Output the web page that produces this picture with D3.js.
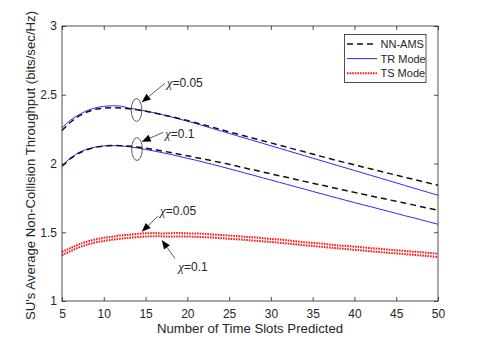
<!DOCTYPE html>
<html><head><meta charset="utf-8">
<script src="https://cdn.jsdelivr.net/npm/d3@7"></script>
<style>
body{margin:0;background:#fff;}
text{font-family:"Liberation Sans",Arial,sans-serif;fill:#262626;}
</style></head>
<body><svg id="c" width="485" height="340"></svg>
<script>
const slots = [5,6,7,8,9,10,11,12,13,14,15,16,17,18,19,20,21,22,23,24,25,26,27,28,29,30,31,32,33,34,35,36,37,38,39,40,41,42,43,44,45,46,47,48,49,50];
const nnAms005 = [2.24,2.30,2.345,2.375,2.394,2.403,2.406,2.404,2.398,2.39,2.38,2.368,2.355,2.342,2.328,2.313,2.297,2.281,2.264,2.247,2.23,2.214,2.198,2.182,2.166,2.150,2.134,2.117,2.101,2.085,2.069,2.052,2.036,2.020,2.005,1.990,1.975,1.960,1.945,1.930,1.915,1.900,1.886,1.871,1.856,1.842];
const tr005 = [2.26,2.315,2.355,2.385,2.405,2.416,2.42,2.418,2.403,2.393,2.382,2.369,2.355,2.340,2.324,2.308,2.291,2.273,2.255,2.237,2.219,2.201,2.183,2.165,2.147,2.129,2.111,2.093,2.075,2.057,2.039,2.021,2.003,1.985,1.967,1.949,1.931,1.913,1.895,1.877,1.859,1.841,1.823,1.805,1.787,1.769];
const nnAms01 = [1.98,2.035,2.075,2.10,2.118,2.127,2.131,2.13,2.127,2.12,2.112,2.102,2.091,2.08,2.068,2.056,2.044,2.032,2.019,2.007,1.994,1.980,1.966,1.952,1.939,1.925,1.911,1.898,1.884,1.870,1.857,1.843,1.830,1.816,1.803,1.790,1.777,1.764,1.751,1.738,1.725,1.712,1.699,1.686,1.673,1.660];
const tr01 = [1.985,2.04,2.08,2.105,2.12,2.128,2.13,2.128,2.122,2.113,2.102,2.091,2.079,2.066,2.052,2.038,2.024,2.009,1.994,1.978,1.962,1.946,1.929,1.913,1.896,1.880,1.863,1.847,1.830,1.814,1.797,1.781,1.764,1.748,1.732,1.716,1.700,1.685,1.669,1.653,1.637,1.621,1.606,1.590,1.574,1.558];
const ts005 = [1.357,1.385,1.412,1.432,1.448,1.46,1.468,1.477,1.482,1.488,1.493,1.494,1.491,1.493,1.495,1.492,1.491,1.489,1.484,1.48,1.476,1.472,1.466,1.463,1.457,1.451,1.447,1.441,1.434,1.428,1.422,1.418,1.411,1.404,1.401,1.396,1.39,1.384,1.38,1.374,1.369,1.364,1.359,1.355,1.349,1.344];
const ts01 = [1.333,1.362,1.39,1.41,1.426,1.437,1.446,1.453,1.459,1.465,1.469,1.471,1.47,1.468,1.47,1.469,1.467,1.464,1.461,1.457,1.452,1.449,1.444,1.439,1.434,1.429,1.424,1.418,1.412,1.405,1.40,1.395,1.389,1.383,1.378,1.372,1.367,1.361,1.356,1.351,1.346,1.341,1.336,1.331,1.326,1.32];
const xTicks = [5,10,15,20,25,30,35,40,45,50];
const yTicks = [1,1.5,2,2.5,3];
const yTickLabels = ["1","1.5","2","2.5","3"];
const legendNames = ["NN-AMS","TR Mode","TS Mode"];

(function(){
const svg = d3.select("#c");
svg.append("rect").attr("width",485).attr("height",340).attr("fill","#fff");
const L=62, R=438, T=26, B=301;
const x = d3.scaleLinear().domain([5,50]).range([L,R]);
const y = d3.scaleLinear().domain([1,3]).range([B,T]);

const styles = {
  nn:{stroke:"#111",width:1.5,dash:"6,4"},
  tr:{stroke:"#2b2bff",width:1,dash:null},
  ts:{stroke:"#ff1a1a",width:2,dash:"1.6,1"}
};
const line = d3.line().x((d,i)=>x(slots[i])).y(d=>y(d));
const series = [
  [ts005,"ts"],[ts01,"ts"],
  [tr005,"tr"],[tr01,"tr"],
  [nnAms005,"nn"],[nnAms01,"nn"]
];
const g = svg.append("g");
series.forEach(([vals,k])=>{
  const s=styles[k];
  g.append("path").attr("d",line(vals)).attr("fill","none")
   .attr("stroke",s.stroke).attr("stroke-width",s.width)
   .attr("stroke-dasharray",s.dash);
});

const ax = svg.append("g");
ax.append("g").attr("transform",`translate(0,${B})`)
  .call(d3.axisBottom(x).tickValues(xTicks).tickSize(-4).tickPadding(8));
ax.append("g").attr("transform",`translate(0,${T})`)
  .call(d3.axisTop(x).tickValues(xTicks).tickSize(-4).tickFormat(""));
ax.append("g").attr("transform",`translate(${L},0)`)
  .call(d3.axisLeft(y).tickValues(yTicks).tickSize(-4).tickPadding(5).tickFormat((d,i)=>yTickLabels[i]));
ax.append("g").attr("transform",`translate(${R},0)`)
  .call(d3.axisRight(y).tickValues(yTicks).tickSize(-4).tickFormat(""));
ax.selectAll(".domain").remove();
ax.selectAll(".tick line").attr("stroke","#262626").attr("stroke-width",0.8);
ax.selectAll(".tick text").attr("font-size",12).attr("fill","#262626")
  .attr("font-family","Liberation Sans, Arial, sans-serif");
ax.append("rect").attr("x",L).attr("y",T).attr("width",R-L).attr("height",B-T)
  .attr("fill","none").attr("stroke","#262626").attr("stroke-width",0.8);

svg.append("text").attr("x",(L+R)/2).attr("y",333).attr("text-anchor","middle")
  .attr("font-size",13.2).text("Number of Time Slots Predicted");
svg.append("text").attr("transform",`translate(35,${(T+B)/2+2}) rotate(-90)`).attr("text-anchor","middle")
  .attr("font-size",13.2).text("SU's Average Non-Collision Throughput (bits/sec/Hz)");

const lg = svg.append("g");
lg.append("rect").attr("x",344.5).attr("y",34.5).attr("width",81.5).attr("height",48)
  .attr("fill","#fff").attr("stroke","#262626").attr("stroke-width",0.8);
["nn","tr","ts"].forEach((k,i)=>{
  const s=styles[k]; const yy=44+i*14.6;
  lg.append("line").attr("x1",347).attr("x2",377).attr("y1",yy).attr("y2",yy)
    .attr("stroke",s.stroke).attr("stroke-width",s.width).attr("stroke-dasharray",s.dash);
  lg.append("text").attr("x",380.5).attr("y",yy+4).attr("font-size",11).text(legendNames[i]);
});

const ellipses = [[13.92,2.389],[13.97,2.105]];
ellipses.forEach(([ex,ey])=>{
  svg.append("ellipse").attr("cx",x(ex)).attr("cy",y(ey)).attr("rx",5.3).attr("ry",11.4)
    .attr("fill","none").attr("stroke","#333").attr("stroke-width",0.8);
});
const arrows = [
  {from:[17.33,2.583],to:[14.54,2.445],text:[17.53,2.5585],label:"0.05"},
  {from:[17.12,2.227],to:[14.54,2.1585],text:[17.33,2.1876],label:"0.1"},
  {from:[16.52,1.618],to:[14.54,1.504],text:[16.73,1.625],label:"0.05"},
  {from:[18.52,1.31],to:[16.93,1.4436],text:[18.92,1.218],label:"0.1"}
];
arrows.forEach(a=>{
  const x1=x(a.from[0]),y1=y(a.from[1]),x2=x(a.to[0]),y2=y(a.to[1]);
  const ang=Math.atan2(y2-y1,x2-x1), hl=9, hw=3.6;
  const bx=x2-hl*Math.cos(ang), by=y2-hl*Math.sin(ang);
  svg.append("line").attr("x1",x1).attr("y1",y1).attr("x2",bx).attr("y2",by)
    .attr("stroke","#333").attr("stroke-width",0.8);
  const px=-Math.sin(ang)*hw, py=Math.cos(ang)*hw;
  svg.append("path").attr("d",`M${x2},${y2}L${bx+px},${by+py}L${bx-px},${by-py}Z`).attr("fill","#000");
  const t=svg.append("text").attr("x",x(a.text[0])).attr("y",y(a.text[1])).attr("font-size",12);
  t.append("tspan").attr("font-family","Liberation Serif, Times New Roman, serif").attr("font-style","italic").attr("font-size",13).text("χ");
  t.append("tspan").text("="+a.label);
});
})();
</script></body></html>
